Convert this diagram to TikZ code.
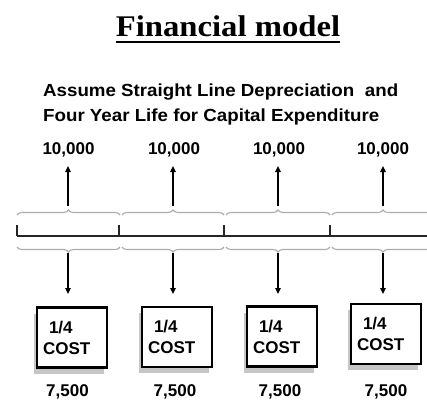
\documentclass[tikz,border=0pt]{standalone}
\usepackage{fontspec}
\usepackage{graphicx}
\setmainfont{Liberation Sans}
\newfontfamily\titlefont{Liberation Serif}
\usetikzlibrary{decorations.pathreplacing,arrows.meta,shadows}
\newcommand\wideline[1]{\scalebox{1.07}[1]{#1}}
\begin{document}
\begin{tikzpicture}[x=1pt,y=-1pt,
  lbl/.style={font=\bfseries\fontsize{17}{20}\selectfont, inner sep=0pt},
  brc/.style={decorate, decoration={brace, amplitude=5pt}, draw=gray!65, line width=1.1pt},
  arr/.style={-{Triangle[length=6pt,width=5.5pt]}, line width=1.7pt},
  costbox/.style={draw, line width=2.8pt, fill=white, minimum width=70pt, minimum height=60pt,
    text width=58pt, align=left, inner xsep=6pt, inner ysep=0pt,
    font=\bfseries\fontsize{17}{21}\selectfont,
    drop shadow={shadow xshift=-3pt, shadow yshift=-6pt, fill=gray!45, opacity=1}},
  tline/.style={line width=1.8pt, draw=black!85}
]
\useasboundingbox (0,0) rectangle (427,401);
\clip (0,0) rectangle (427,401);

% title
\node[anchor=base, inner sep=0pt, font=\titlefont\bfseries\fontsize{30}{32}\selectfont] (title) at (228,37) {\scalebox{1.09}[1]{Financial model}};
\draw[line width=1.3pt] ([yshift=-5pt]title.base west) -- ([yshift=-5pt]title.base east);

% subtitle
\node[anchor=north west, inner sep=0pt, align=left, font=\bfseries\fontsize{17.5}{25}\selectfont] (sub) at (43,84)
  {\wideline{Assume Straight Line Depreciation\hspace{10pt}and}\\\wideline{Four Year Life for Capital Expenditure}};

% timeline
\coordinate (t0) at (17,236);
\coordinate (t1) at (119,236);
\coordinate (t2) at (224,236);
\coordinate (t3) at (330,236);
\coordinate (tend) at (430,236);
\draw[tline] (t0) -- (tend);
\foreach \t in {t0,t1,t2,t3} \draw[tline] (\t) -- ([yshift=11pt]\t);

% upper braces
\draw[brc] (17,215) -- (120,215);
\draw[brc] (122,215) -- (224,215);
\draw[brc] (226,215) -- (330,215);
\draw[brc] (332,215) -- (434,215);
% lower braces
\draw[brc] (120,247) -- (17,247);
\draw[brc] (224,247) -- (122,247);
\draw[brc] (330,247) -- (226,247);
\draw[brc] (434,247) -- (332,247);

% brace tips
\coordinate (u1) at (68,206);  \coordinate (d1) at (68,253);
\coordinate (u2) at (173,206); \coordinate (d2) at (173,253);
\coordinate (u3) at (278,206); \coordinate (d3) at (278,253);
\coordinate (u4) at (383,206); \coordinate (d4) at (383,253);

% values
\node[lbl] (v1) at (68.5,150) {10,000};
\node[lbl] (v2) at (174,150) {10,000};
\node[lbl] (v3) at (279,150) {10,000};
\node[lbl] (v4) at (383,150) {10,000};

\draw[arr] (u1) -- (u1 |- 0,166);
\draw[arr] (u2) -- (u2 |- 0,166);
\draw[arr] (u3) -- (u3 |- 0,166);
\draw[arr] (u4) -- (u4 |- 0,166);

% boxes
\node[costbox] (b1) at (72,337.5) {\hspace*{6pt}1/4\\COST};
\node[costbox] (b2) at (177,337) {\hspace*{6pt}1/4\\COST};
\node[costbox] (b3) at (282,336.5) {\hspace*{6pt}1/4\\COST};
\node[costbox] (b4) at (386,334) {\hspace*{6pt}1/4\\COST};

\draw[arr] (d1) -- (d1 |- 0,294);
\draw[arr] (d2) -- (d2 |- 0,294);
\draw[arr] (d3) -- (d3 |- 0,294);
\draw[arr] (d4) -- (d4 |- 0,294);

% bottom values
\node[lbl] (c1) at (67.5,392) {7,500};
\node[lbl] (c2) at (175,392) {7,500};
\node[lbl] (c3) at (280,392) {7,500};
\node[lbl] (c4) at (386,392) {7,500};
\end{tikzpicture}
\end{document}
